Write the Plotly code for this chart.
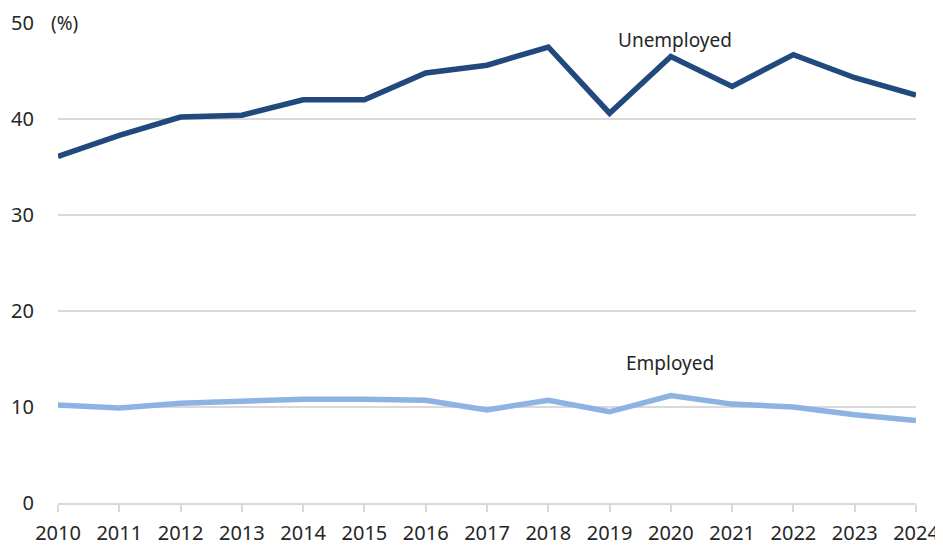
import plotly.graph_objects as go

years = list(range(2010, 2025))
unemployed = [36.1, 38.3, 40.2, 40.4, 42.0, 42.0, 44.8, 45.6, 47.5, 40.6, 46.5, 43.4, 46.7, 44.3, 42.5]
employed = [10.2, 9.9, 10.4, 10.6, 10.8, 10.8, 10.7, 9.7, 10.7, 9.5, 11.2, 10.3, 10.0, 9.2, 8.6]
y_ticks = [0, 10, 20, 30, 40, 50]

# page has an 8px body margin; target positions are given in page pixels
OFF = 8
W, H = 943 - OFF, 545 - OFF
PL, PR, PT, PB = 58, 916, 23, 503          # plot area in page pixels
ML, MR, MT, MB = PL - OFF, W - (PR - OFF), PT - OFF, H - (PB - OFF)
FONT = "Noto Sans"
TXT = "#262626"
GRID = "#d9d9d9"
FS = 20

fig = go.Figure()
fig.add_trace(go.Scatter(x=years, y=employed, mode="lines", name="Employed",
                         line=dict(color="#8db3e2", width=5.5), showlegend=False))
fig.add_trace(go.Scatter(x=years, y=unemployed, mode="lines", name="Unemployed",
                         line=dict(color="#22497e", width=5.5), showlegend=False))

def px_x(p):
    return (p - PL) / (PR - PL)

def px_y(p):
    return (PB - p) / (PB - PT)

fig.add_annotation(text="(%)", xref="paper", yref="paper", x=px_x(46), y=px_y(23),
                   xanchor="left", yanchor="middle", showarrow=False,
                   bgcolor="white", borderpad=4,
                   font=dict(family=FONT, size=19, color=TXT))
fig.add_annotation(text="Unemployed", xref="paper", yref="paper",
                   x=px_x(675), y=px_y(40), xanchor="center", yanchor="middle",
                   showarrow=False, font=dict(family=FONT, size=19, color=TXT))
fig.add_annotation(text="Employed", xref="paper", yref="paper",
                   x=px_x(670), y=px_y(363), xanchor="center", yanchor="middle",
                   showarrow=False, font=dict(family=FONT, size=19, color=TXT))

fig.update_layout(
    width=W, height=H,
    margin=dict(l=ML, r=MR, t=MT, b=MB, pad=0),
    paper_bgcolor="white", plot_bgcolor="white",
    font=dict(family=FONT, size=FS, color=TXT),
)
fig.update_xaxes(range=[2010, 2024], tickmode="array", tickvals=years,
                 ticktext=[str(y) for y in years], automargin=False,
                 showgrid=False, zeroline=False,
                 showline=True, linecolor=GRID, linewidth=1.5,
                 ticks="outside", ticklen=7, tickcolor=GRID, tickwidth=1.5,
                 ticklabelstandoff=4,
                 tickfont=dict(family=FONT, size=FS, color=TXT))
fig.update_yaxes(range=[0, 50], tickmode="array", tickvals=y_ticks, automargin=False,
                 showgrid=True, gridcolor=GRID, gridwidth=1.5,
                 zeroline=False, showline=False, ticks="",
                 ticklabelstandoff=23,
                 tickfont=dict(family=FONT, size=FS, color=TXT))

fig.write_html("out.html")
